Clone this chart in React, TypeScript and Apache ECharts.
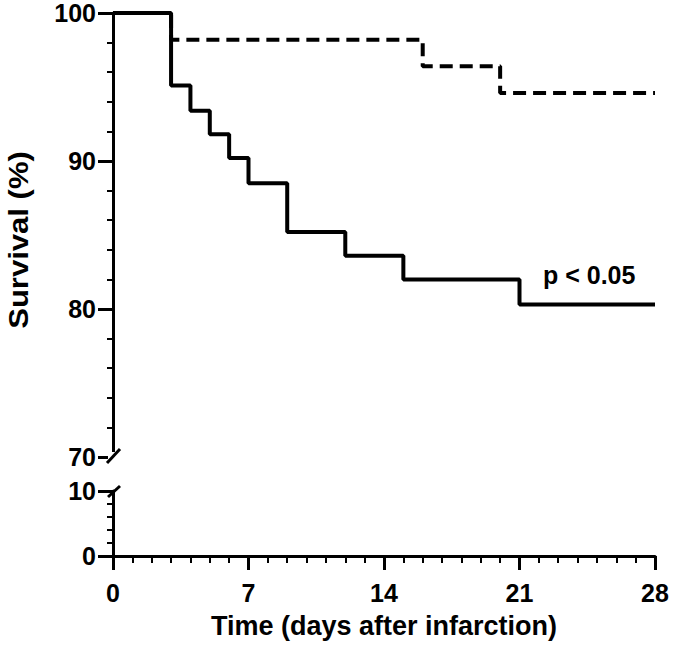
import React, { useEffect, useRef } from "react";
import * as echarts from "echarts";

const solidDays = [0, 3, 4, 5, 6, 7, 9, 12, 15, 21, 28];
const solidSurvival = [100, 95.1, 93.4, 91.8, 90.2, 88.5, 85.2, 83.6, 82.0, 80.3, 80.3];
const dashedDays = [0, 3, 16, 20, 28];
const dashedSurvival = [100, 98.2, 96.4, 94.6, 94.6];
const xTicks = [0, 7, 14, 21, 28];
const upperRange = [70, 100];
const lowerRange = [0, 10];
const pText = "p < 0.05";

const FONT = "'Liberation Sans', Arial, Helvetica, sans-serif";

export default function App() {
  const ref = useRef<HTMLDivElement>(null);
  useEffect(() => {
    if (!ref.current) return;
    const chart = echarts.init(ref.current, undefined, { renderer: "svg" });
    const axisLine = { lineStyle: { color: "#000", width: 3 } };
    const labelStyle = { color: "#000", fontSize: 25, fontWeight: "bold" as const, fontFamily: FONT };
    const option = {
      animation: false,
      backgroundColor: "#fff",
      grid: [
        { left: 113, right: 19, top: 13, height: 444 },
        { left: 113, right: 19, top: 491, height: 65 },
      ],
      xAxis: [
        { gridIndex: 0, type: "value", min: 0, max: 28, interval: 7, show: false },
        {
          gridIndex: 1,
          type: "value",
          min: 0,
          max: 28,
          interval: 7,
          axisLine,
          axisTick: { show: true, length: 14, lineStyle: { width: 3, color: "#000" } },
          minorTick: { show: true, splitNumber: 7, length: 7, lineStyle: { width: 2, color: "#000" } },
          splitLine: { show: false },
          axisLabel: { ...labelStyle, margin: 24, customValues: xTicks },
          name: "Time (days after infarction)",
          nameLocation: "middle",
          nameGap: 56,
          nameTextStyle: { ...labelStyle, fontSize: 27 },
        },
      ],
      yAxis: [
        {
          gridIndex: 0,
          type: "value",
          min: upperRange[0],
          max: upperRange[1],
          interval: 10,
          axisLine,
          axisTick: { show: true, length: 15, lineStyle: { width: 3, color: "#000" } },
          minorTick: { show: true, splitNumber: 5, length: 6, lineStyle: { width: 2, color: "#000" } },
          splitLine: { show: false },
          axisLabel: { ...labelStyle, margin: 17 },
        },
        {
          gridIndex: 1,
          type: "value",
          min: lowerRange[0],
          max: lowerRange[1],
          interval: 10,
          axisLine,
          axisTick: { show: true, length: 15, lineStyle: { width: 3, color: "#000" } },
          minorTick: { show: true, splitNumber: 5, length: 6, lineStyle: { width: 2, color: "#000" } },
          splitLine: { show: false },
          axisLabel: { ...labelStyle, margin: 17 },
        },
      ],
      series: [
        {
          type: "line",
          xAxisIndex: 0,
          yAxisIndex: 0,
          step: "end",
          symbol: "none",
          data: dashedDays.map((d, i) => [d, dashedSurvival[i]]),
          lineStyle: { color: "#000", width: 4, type: [13, 7] },
          z: 2,
        },
        {
          type: "line",
          xAxisIndex: 0,
          yAxisIndex: 0,
          step: "end",
          symbol: "none",
          data: solidDays.map((d, i) => [d, solidSurvival[i]]),
          lineStyle: { color: "#000", width: 4 },
          z: 3,
        },
      ],
      graphic: [
        {
          type: "text",
          left: 543,
          top: 262,
          style: { text: pText, fill: "#000", font: `bold 25px ${FONT}` },
        },
        {
          type: "text",
          x: 19,
          y: 240,
          rotation: Math.PI / 2,
          scaleX: 1.15,
          style: {
            text: "Survival (%)",
            fill: "#000",
            font: `bold 27px ${FONT}`,
            align: "center",
            verticalAlign: "middle",
          },
        },
        { type: "rect", shape: { x: 108, y: 452, width: 10, height: 8 }, style: { fill: "#fff" }, z: 100 },
        {
          type: "line",
          shape: { x1: 107, y1: 463, x2: 120, y2: 449 },
          style: { stroke: "#000", lineWidth: 3 },
          z: 101,
        },
        {
          type: "line",
          shape: { x1: 108, y1: 497, x2: 120, y2: 486 },
          style: { stroke: "#000", lineWidth: 3 },
          z: 101,
        },
      ],
    };
    chart.setOption(option as any);
    return () => chart.dispose();
  }, []);
  return <div ref={ref} style={{ width: 674, height: 655, position: "absolute", left: 0, top: 0 }} />;
}
